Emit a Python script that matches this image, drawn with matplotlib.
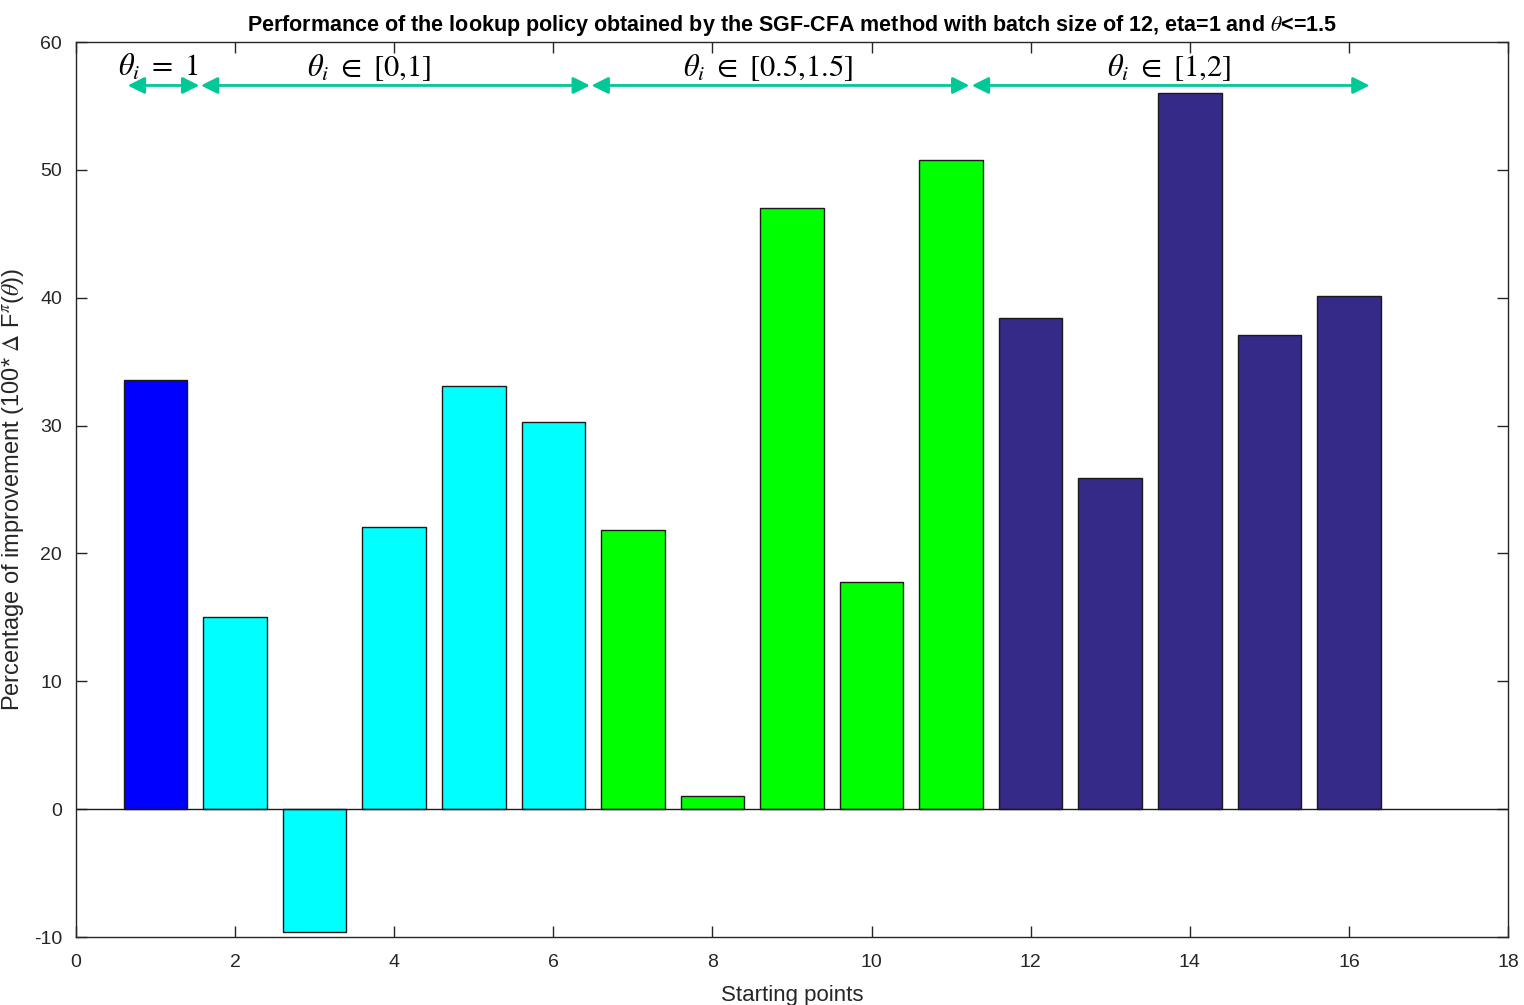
import matplotlib.pyplot as plt
import numpy as np

# starting points and improvement per starting point
points = np.arange(1, 17)
improvement = [33.6, 15.0, -9.6, 22.1, 33.1, 30.3, 21.8, 1.0,
               47.0, 17.8, 50.8, 38.4, 25.9, 56.0, 37.1, 40.1]
groups = [0, 1, 1, 1, 1, 1, 2, 2, 2, 2, 2, 3, 3, 3, 3, 3]
group_colors = ['#0000ff', '#00ffff', '#00ff00', '#352a87']

# bracket arrows over each group of starting points
range_labels = [r'$\theta_i\ =\ 1$', r'$\theta_i\ \in\ [0{,}1]$',
                r'$\theta_i\ \in\ [0.5{,}1.5]$', r'$\theta_i\ \in\ [1{,}2]$']
range_spans = [(0.65, 1.55), (1.57, 6.46), (6.48, 11.23), (11.26, 16.26)]
label_x = [1.03, 3.68, 8.70, 13.74]

plt.rcParams['mathtext.fontset'] = 'stix'
plt.rcParams['font.family'] = ['Liberation Sans', 'DejaVu Sans']
plt.rcParams['axes.unicode_minus'] = False
gray = '#262626'

fig = plt.figure(figsize=(15.24, 10.05), dpi=100)
ax = fig.add_axes([76 / 1524, 1 - 937 / 1005, (1508 - 76) / 1524, (937 - 42) / 1005])

ax.bar(points, improvement, width=0.8,
       color=[group_colors[g] for g in groups],
       edgecolor='#1a1a1a', linewidth=1.0, zorder=2)
ax.axhline(0, color='#1a1a1a', linewidth=1.0, zorder=3)

arrow_y = 56.6
arrow_color = '#00c896'
for (x0, x1), lx, label in zip(range_spans, label_x, range_labels):
    ax.annotate('', xy=(x0, arrow_y), xytext=(x1, arrow_y),
                arrowprops=dict(arrowstyle='<|-|>', color=arrow_color, lw=2,
                                mutation_scale=25, shrinkA=0, shrinkB=0),
                zorder=4)
    ax.text(lx, arrow_y + 0.75, label, ha='center', va='baseline',
            fontsize=22, color='black', zorder=5)

ax.set_xlim(0, 18)
ax.set_ylim(-10, 60)
ax.set_xticks(np.arange(0, 19, 2))
ax.set_yticks(np.arange(-10, 61, 10))
ax.tick_params(direction='in', top=True, right=True, length=8, width=1,
               labelsize=14, colors=gray)
ax.tick_params(axis='x', pad=12)
ax.tick_params(axis='y', pad=10)
for s in ax.spines.values():
    s.set_color(gray)
    s.set_linewidth(1.0)

ax.set_xlabel('Starting points', fontsize=16, color=gray, labelpad=10)
ax.set_ylabel(r'Percentage of improvement (100* $\Delta$ F$^{\pi}$($\theta$))',
              fontsize=17, color=gray, labelpad=6)
ax.set_title(r'Performance of the lookup policy obtained by the SGF-CFA method '
             r'with batch size of 12, eta=1 and $\theta$<=1.5',
             fontsize=15.5, fontweight='bold', color='black', pad=8)

fig.savefig('out.png', dpi=100)
